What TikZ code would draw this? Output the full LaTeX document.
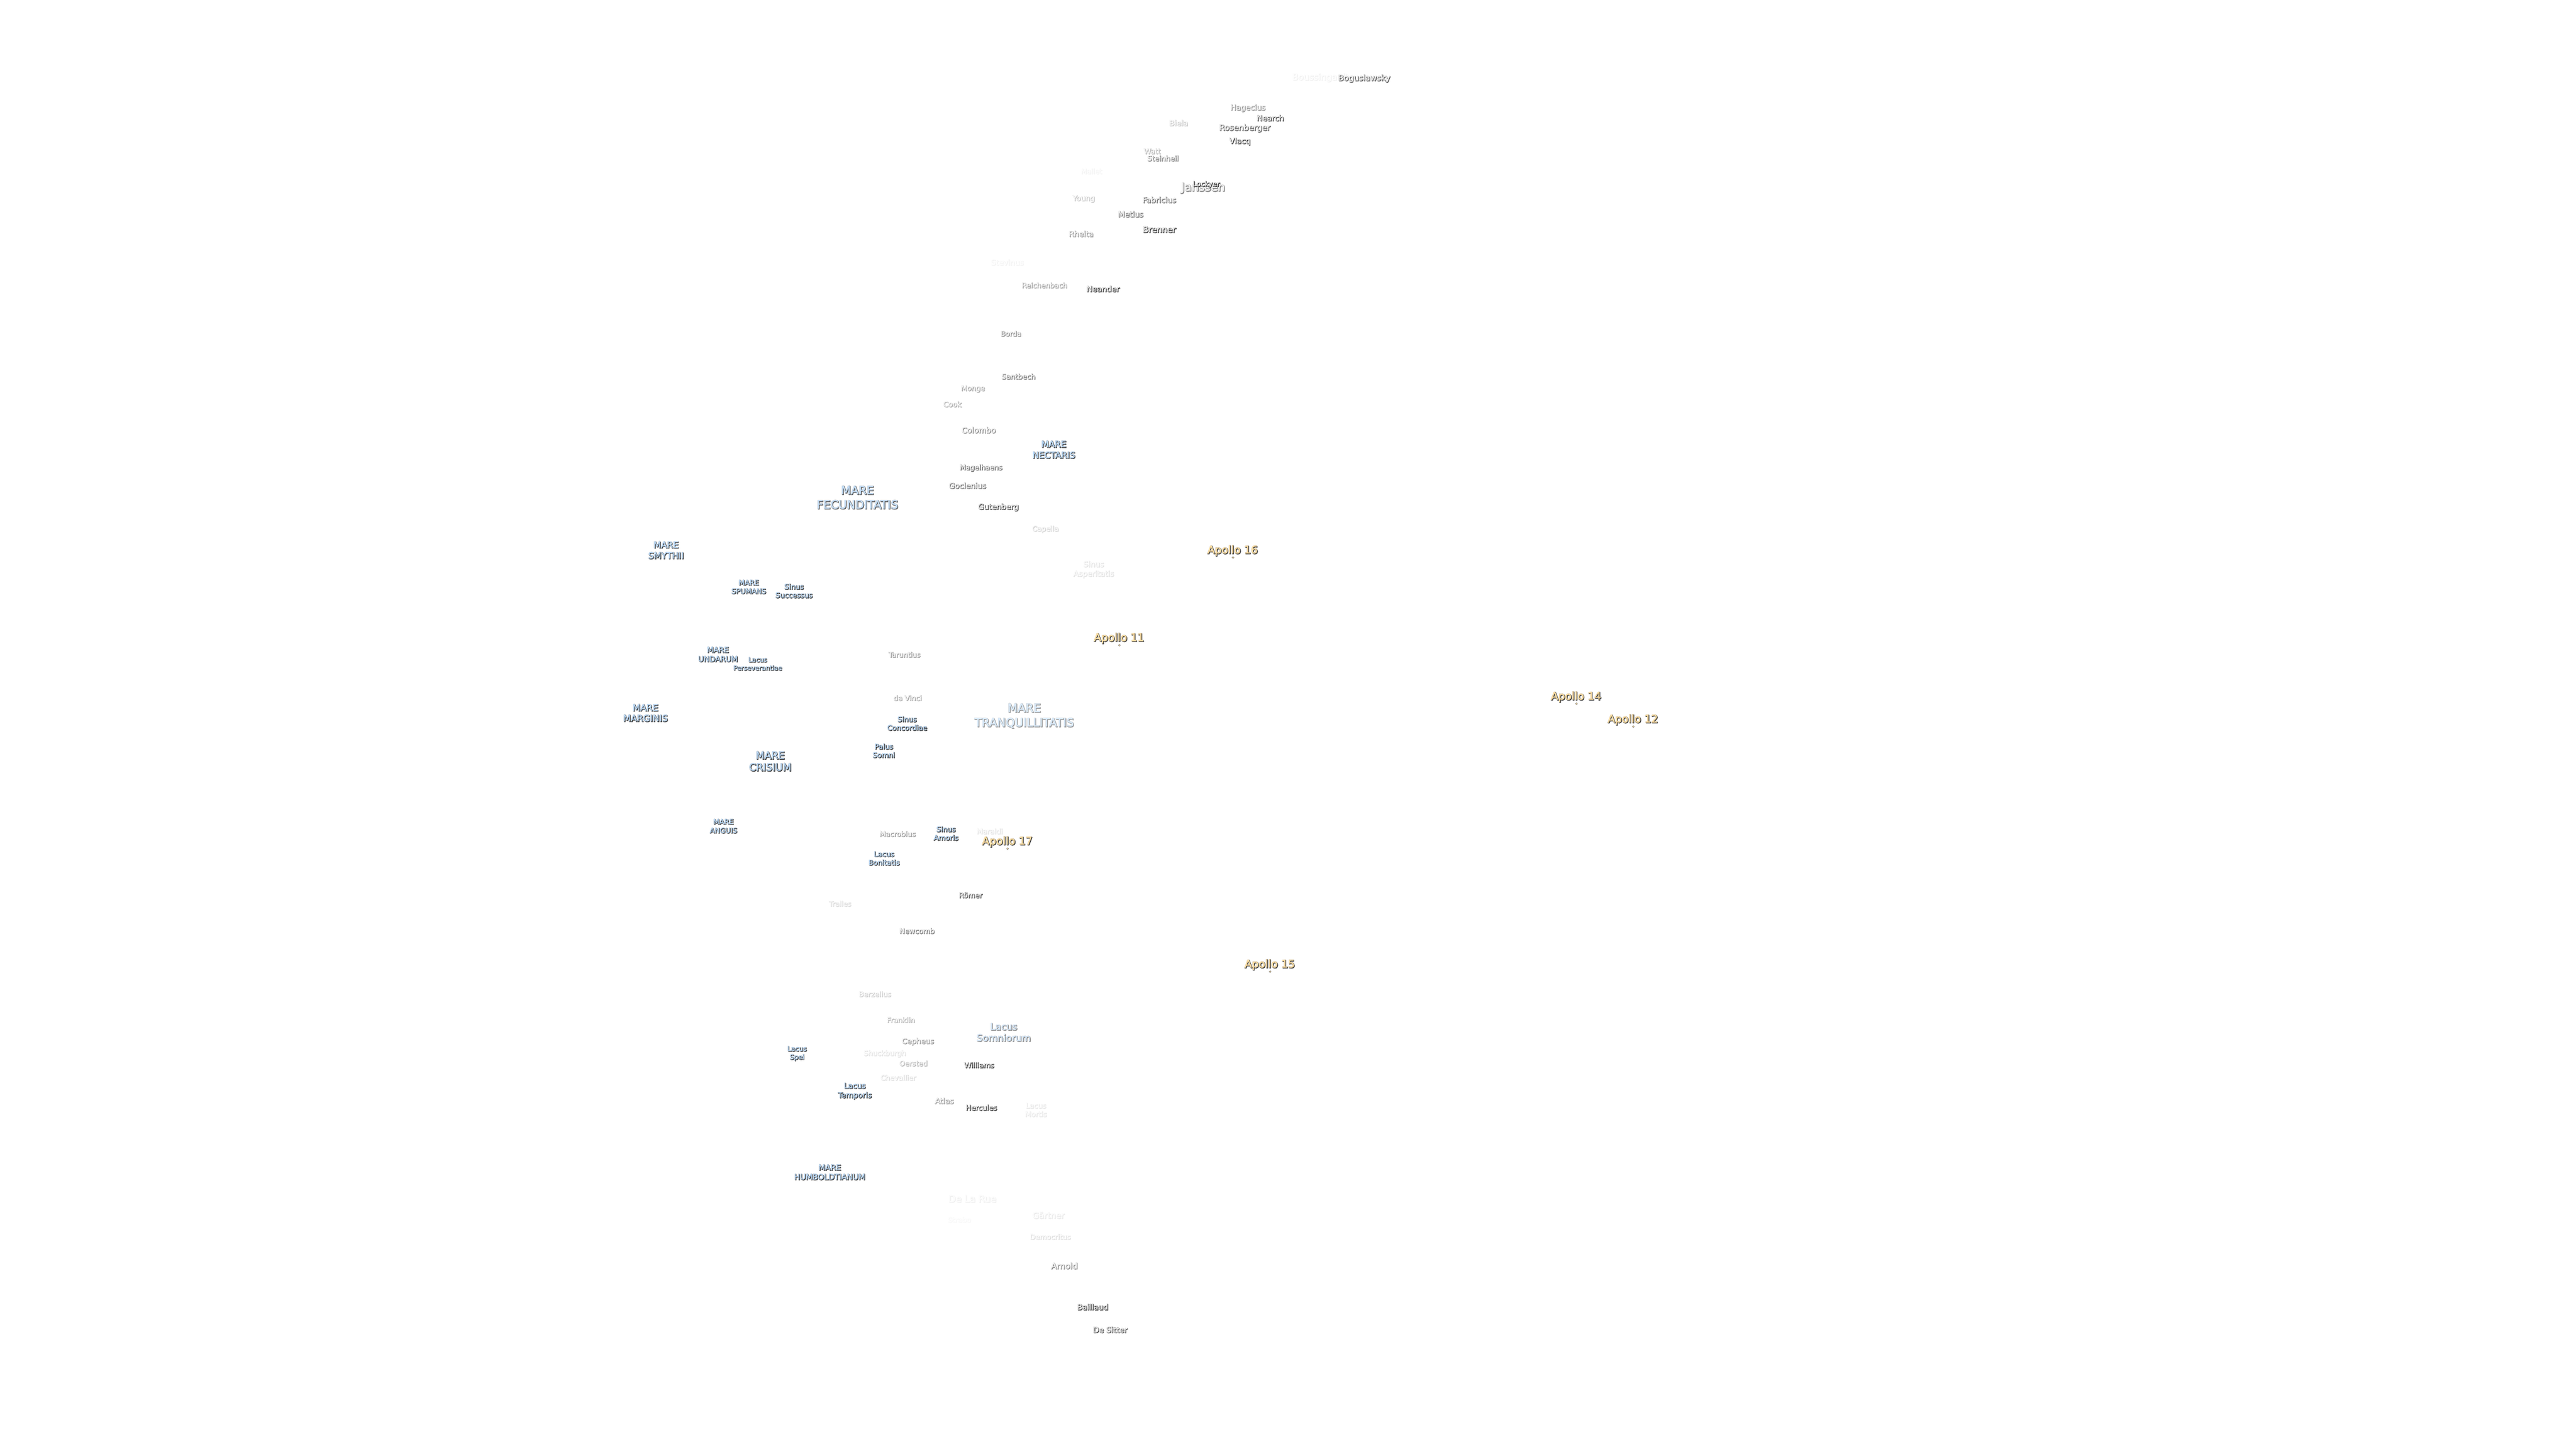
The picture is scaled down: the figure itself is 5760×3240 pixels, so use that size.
\documentclass[tikz,border=0pt]{standalone}
\usepackage{fontspec}
\setmainfont[FakeBold=1.5]{DejaVu Sans}
\newfontfamily\lhalo[FakeBold=8]{DejaVu Sans}
\newfontfamily\lshad[FakeBold=4]{DejaVu Sans}
\definecolor{craterfill}{HTML}{EDEDED}
\definecolor{marefill}{HTML}{BBD9F7}
\definecolor{apollofill}{HTML}{FFDFA3}
\definecolor{shadowcol}{HTML}{3C3C3C}
\definecolor{halocol}{HTML}{8E8E8E}
\newcommand{\tstrut}{\rule[-.24em]{0pt}{1.21em}}
\tikzset{x=0.01cm,y=-0.01cm,
  lab/.style={inner sep=0pt,outer sep=0pt,align=center,anchor=center},
  apollodot/.style={circle,inner sep=0pt,minimum size=0.045cm,fill=apollofill,draw=shadowcol!80,line width=0.15pt}}
% name, x, y, size(px), line spacing(px), opacity(0-100), fill colour, text
\newcommand{\labl}[8]{%
  \pgfmathsetmacro{\fsz}{#4*0.28453}%
  \pgfmathsetmacro{\lsz}{#5*0.28453}%
  \pgfmathsetmacro{\opv}{min(100,#6*1.2)}%
  \node[lab,text=halocol!\opv!white,
    font={\lhalo\fontsize{\fsz pt}{\lsz pt}\selectfont\lineskiplimit=-100pt\relax}]
    (#1-h) at (#2+0.6,#3+0.6) {#8};
  \node[lab,text=shadowcol!\opv!white,
    font={\lshad\fontsize{\fsz pt}{\lsz pt}\selectfont\lineskiplimit=-100pt\relax}]
    (#1-s) at (#2+1.4,#3+1.5) {#8};
  \node[lab,text=#7!\opv!white,
    font={\fontsize{\fsz pt}{\lsz pt}\selectfont\lineskiplimit=-100pt\relax}]
    (#1) at (#2,#3) {#8};
}
\newcommand{\one}[6]{\labl{#1}{#2}{#3-1.5}{#4}{#4}{#5}{craterfill}{\tstrut #6}}
\newcommand{\two}[8]{\labl{#1}{#2}{#3}{#4}{#5}{#6}{#7}{#8}}
\newcommand{\apollo}[5]{%
  \labl{#1}{#2}{#3-1}{24}{24}{100}{apollofill}{\tstrut #5}%
  \node[apollodot] (#1-dot) at (#2+1,#3+#4) {};}
\newcommand{\ts}[2]{\tstrut #1\\\tstrut #2}
\begin{document}
\begin{tikzpicture}
\useasboundingbox[fill=white] (0,0) rectangle (5760,3240);
\one{boussingault}{2952}{173}{19.5}{6}{Boussingault}
\one{boguslawsky}{3050}{175}{18}{70}{Boguslawsky}
\one{hagecius}{2790}{241}{17}{45}{Hagecius}
\one{nearch}{2840}{265}{17}{95}{Nearch}
\one{biela}{2635}{276}{17}{22}{Biela}
\one{rosenberger}{2783}{286}{18}{65}{Rosenberger}
\one{vlacq}{2772}{316}{17}{95}{Vlacq}
\one{watt}{2576}{339}{16}{30}{Watt}
\one{steinheil}{2600}{355}{16}{50}{Steinheil}
\one{mallet}{2440}{384}{15.5}{5}{Mallet}
\one{janssen}{2690}{419}{25.5}{55}{Janssen}
\one{lockyer}{2697}{412}{15.5}{100}{Lockyer}
\one{young}{2423}{444}{16.5}{25}{Young}
\one{fabricius}{2592}{448}{17}{60}{Fabricius}
\one{metius}{2528}{480}{17}{60}{Metius}
\one{brenner}{2592}{514}{18.5}{85}{Brenner}
\one{rheita}{2417}{524}{17}{45}{Rheita}
\one{stevinus}{2252}{588}{17}{5}{Stevinus}
\one{reichenbach}{2335}{639}{15.8}{38}{Reichenbach}
\one{neander}{2466}{647}{17.3}{85}{Neander}
\one{borda}{2260}{747}{15.5}{50}{Borda}
\one{santbech}{2277}{843}{16}{55}{Santbech}
\one{monge}{2175}{869}{15.8}{40}{Monge}
\one{cook}{2129}{905}{16.2}{35}{Cook}
\one{colombo}{2188}{963}{17.2}{50}{Colombo}
\two{nectaris}{2356}{1005}{19.5}{24.5}{90}{marefill}{\ts{MARE}{NECTARIS}}
\one{magelhaens}{2193}{1046}{15.8}{65}{Magelhaens}
\one{goclenius}{2163}{1087}{17}{60}{Goclenius}
\one{gutenberg}{2232}{1134}{17}{80}{Gutenberg}
\one{capella}{2337}{1183}{15.8}{20}{Capella}
\two{fecunditatis}{1917}{1112}{25.5}{32}{70}{marefill}{\ts{MARE}{FECUNDITATIS}}
\two{asperitatis}{2445}{1271.5}{17}{21}{12}{craterfill}{\ts{Sinus}{Asperitatis}}
\two{smythii}{1489}{1230}{19.5}{24}{90}{marefill}{\ts{MARE}{SMYTHII}}
\two{spumans}{1674}{1312}{15.8}{19}{100}{marefill}{\ts{MARE}{SPUMANS}}
\two{successus}{1775}{1321}{16}{19}{100}{marefill}{\ts{Sinus}{Successus}}
\two{undarum}{1605}{1463}{17}{20.5}{100}{marefill}{\ts{MARE}{UNDARUM}}
\two{perseverantiae}{1694}{1484}{14.5}{18.5}{100}{marefill}{\ts{Lacus}{Perseverantiae}}
\one{taruntius}{2022}{1465}{15.5}{40}{Taruntius}
\one{davinci}{2029}{1562}{15.8}{40}{da Vinci}
\two{marginis}{1443}{1594}{20}{23.5}{90}{marefill}{\ts{MARE}{MARGINIS}}
\two{concordiae}{2028}{1617.5}{15.8}{19}{100}{marefill}{\ts{Sinus}{Concordiae}}
\two{somni}{1976}{1678.5}{15.8}{19}{100}{marefill}{\ts{Palus}{Somni}}
\two{crisium}{1722}{1702}{22.5}{26.5}{90}{marefill}{\ts{MARE}{CRISIUM}}
\two{tranquillitatis}{2290}{1599}{25.8}{32.5}{45}{marefill}{\ts{MARE}{TRANQUILLITATIS}}
\two{anguis}{1617.5}{1847}{15.8}{19.5}{100}{marefill}{\ts{MARE}{ANGUIS}}
\one{macrobius}{2006.5}{1866}{15.8}{42}{Macrobius}
\two{amoris}{2115}{1863.5}{15.8}{19}{100}{marefill}{\ts{Sinus}{Amoris}}
\one{maraldi}{2212.5}{1860}{15.8}{12}{Maraldi}
\two{bonitatis}{1976.5}{1919}{15.8}{19}{100}{marefill}{\ts{Lacus}{Bonitatis}}
\one{roemer}{2170}{2003}{16}{70}{Römer}
\one{tralles}{1878}{2022}{15.5}{15}{Tralles}
\one{newcomb}{2050}{2083}{15.8}{55}{Newcomb}
\one{berzelius}{1956}{2224}{15.8}{20}{Berzelius}
\one{franklin}{2014}{2282}{15.8}{32}{Franklin}
\two{somniorum}{2244}{2308}{21}{25}{50}{marefill}{\ts{Lacus}{Somniorum}}
\one{cepheus}{2052}{2329}{16.5}{42}{Cepheus}
\two{spei}{1782}{2354}{15}{18.5}{100}{marefill}{\ts{Lacus}{Spei}}
\one{shuckburgh}{1978}{2356}{15.8}{12}{Shuckburgh}
\one{oersted}{2042}{2379}{15.8}{30}{Oersted}
\one{williams}{2189}{2383}{16}{100}{Williams}
\one{chevallier}{2008}{2411}{15.8}{15}{Chevallier}
\two{temporis}{1911}{2438}{16.8}{21}{90}{marefill}{\ts{Lacus}{Temporis}}
\one{atlas}{2111}{2463}{17}{45}{Atlas}
\one{hercules}{2194}{2478}{16}{100}{Hercules}
\two{mortis}{2316}{2481.5}{15.8}{19}{10}{craterfill}{\ts{Lacus}{Mortis}}
\two{humboldtianum}{1855}{2621}{17.5}{21}{100}{marefill}{\ts{MARE}{HUMBOLDTIANUM}}
\one{delarue}{2174}{2682}{21}{7}{De La Rue}
\one{strabo}{2145}{2729}{15.6}{3}{Strabo}
\one{gaertner}{2344}{2719}{18.5}{9}{Gärtner}
\one{democritus}{2348}{2767}{15.8}{14}{Democritus}
\one{arnold}{2379.5}{2832}{18.3}{50}{Arnold}
\one{baillaud}{2443}{2924}{17.3}{85}{Baillaud}
\one{desitter}{2482}{2975}{17.3}{75}{De Sitter}
\apollo{apollo16}{2756}{1230}{17}{Apollo 16}
\apollo{apollo11}{2502}{1426}{17}{Apollo 11}
\apollo{apollo17}{2252}{1881}{17}{Apollo 17}
\apollo{apollo15}{2839}{2156}{17}{Apollo 15}
\apollo{apollo14}{3524}{1557}{17}{Apollo 14}
\apollo{apollo12}{3651}{1608}{17}{Apollo 12}
\end{tikzpicture}
\end{document}
